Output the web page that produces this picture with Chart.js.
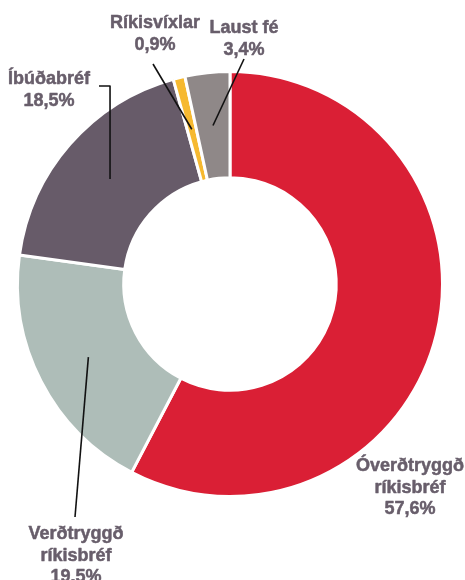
<!DOCTYPE html>
<html>
<head>
<meta charset="utf-8">
<script src="https://cdn.jsdelivr.net/npm/chart.js@4/dist/chart.umd.min.js"></script>
<style>
  html, body { margin: 0; padding: 0; background: #ffffff; }
  #wrap { width: 465px; height: 580px; position: relative; }
</style>
</head>
<body>
<div id="wrap"><canvas id="chart" width="465" height="580"></canvas></div>
<script>
// Portfolio split by asset type (share, %)
const categories = ['Óverðtryggð ríkisbréf', 'Verðtryggð ríkisbréf', 'Íbúðabréf', 'Ríkisvíxlar', 'Laust fé'];
const shares = [57.6, 19.5, 18.5, 0.9, 3.4];
const valueLabels = ['57,6%', '19.5%', '18,5%', '0,9%', '3,4%'];
const labelLines = [
  ['Óverðtryggð', 'ríkisbréf'],
  ['Verðtryggð', 'ríkisbréf'],
  ['Íbúðabréf'],
  ['Ríkisvíxlar'],
  ['Laust fé']
];
const colors = ['#DA1F35', '#AEBDB8', '#675B69', '#F6B930', '#8F8888'];

// Where each label block sits and how its leader line runs
const labelLayout = [
  { x: 410, y: 471, leader: null },
  { x: 76, y: 539, leader: { type: 'straight', to: [75, 517] } },
  { x: 49, y: 84, leader: { type: 'bracket', y: 86, endX: 99 } },
  { x: 155, y: 28, leader: { type: 'straight', to: [153, 64] } },
  { x: 244, y: 33, leader: { type: 'straight', to: [244, 59] } }
];

const calloutPlugin = {
  id: 'callouts',
  afterDatasetsDraw(chart, args, opts) {
    const ctx = chart.ctx;
    const arcs = chart.getDatasetMeta(0).data;
    ctx.save();
    arcs.forEach((arc, i) => {
      const p = arc.getProps(['x', 'y', 'startAngle', 'endAngle', 'innerRadius', 'outerRadius'], true);
      const mid = (p.startAngle + p.endAngle) / 2;
      const r = (p.innerRadius + p.outerRadius) / 2;
      const ax = p.x + Math.cos(mid) * r;
      const ay = p.y + Math.sin(mid) * r;
      const lay = opts.layout[i];
      if (lay.leader) {
        ctx.beginPath();
        ctx.strokeStyle = '#111111';
        ctx.lineWidth = 1.6;
        ctx.moveTo(ax, ay);
        if (lay.leader.type === 'straight') {
          ctx.lineTo(lay.leader.to[0], lay.leader.to[1]);
        } else {
          ctx.lineTo(ax, lay.leader.y);
          ctx.lineTo(lay.leader.endX, lay.leader.y);
        }
        ctx.stroke();
      }
      const lines = opts.lines[i].concat([opts.values[i]]);
      ctx.fillStyle = '#685E6B';
      ctx.strokeStyle = '#685E6B';
      ctx.lineWidth = 0.5;
      ctx.lineJoin = 'round';
      ctx.font = 'bold 18px "Liberation Sans", Arial, sans-serif';
      ctx.textAlign = 'center';
      ctx.textBaseline = 'alphabetic';
      lines.forEach((t, k) => {
        ctx.fillText(t, lay.x, lay.y + k * 21.5);
        ctx.strokeText(t, lay.x, lay.y + k * 21.5);
      });
    });
    ctx.restore();
  }
};

new Chart(document.getElementById('chart'), {
  type: 'doughnut',
  data: {
    labels: categories,
    datasets: [{
      data: shares,
      backgroundColor: colors,
      borderColor: '#ffffff',
      borderWidth: 3,
      hoverOffset: 0
    }]
  },
  options: {
    responsive: false,
    animation: false,
    cutout: '50%',
    rotation: 0,
    layout: { padding: { left: 16, right: 21, top: 70, bottom: 82 } },
    plugins: {
      legend: { display: false },
      tooltip: { enabled: false },
      callouts: { layout: labelLayout, lines: labelLines, values: valueLabels }
    }
  },
  plugins: [calloutPlugin]
});
</script>
</body>
</html>
